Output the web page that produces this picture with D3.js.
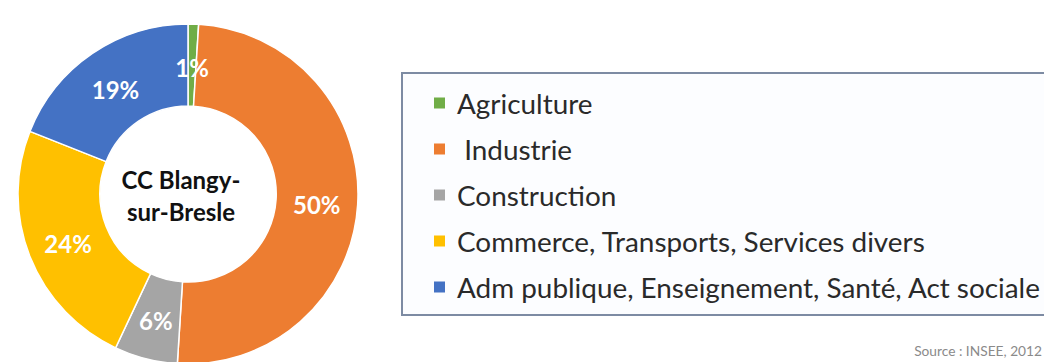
<!DOCTYPE html>
<html>
<head>
<meta charset="utf-8">
<script src="https://cdn.jsdelivr.net/npm/d3@7"></script>
<style>
  html, body { margin: 0; padding: 0; background: #ffffff; }
  svg { display: block; }
  text { font-family: Lato, "Open Sans", "DejaVu Sans", sans-serif; }
</style>
</head>
<body>
<svg id="chart" width="1044" height="362"></svg>
<script>
// ---- Data ----
const categories = ["Agriculture", " Industrie", "Construction", "Commerce, Transports, Services divers", "Adm publique, Enseignement, Santé, Act sociale"];
const values = [1, 50, 6, 24, 19];
const colors = ["#70AD47", "#ED7D31", "#A5A5A5", "#FFC000", "#4472C4"];
const centerLines = ["CC Blangy-", "sur-Bresle"];
const sourceText = "Source : INSEE, 2012";

// ---- Layout ----
const svg = d3.select("#chart");
const cx = 188, cy = 194, rOuter = 170, rInner = 88;

const data = categories.map((c, i) => ({ cat: c, value: values[i], color: colors[i] }));
const pie = d3.pie().value(d => d.value).sort(null);
const arcs = pie(data);
const arc = d3.arc().innerRadius(rInner).outerRadius(rOuter);
const labelArc = d3.arc().innerRadius((rInner + rOuter) / 2).outerRadius((rInner + rOuter) / 2);

const g = svg.append("g").attr("transform", `translate(${cx},${cy})`);
g.selectAll("path.slice").data(arcs).enter().append("path")
  .attr("class", "slice")
  .attr("d", arc)
  .attr("fill", d => d.data.color)
  .attr("stroke", "#ffffff")
  .attr("stroke-width", 1.5);

const pct = d3.format(".0%");
g.selectAll("text.lbl").data(arcs).enter().append("text")
  .attr("class", "lbl")
  .attr("transform", d => { const c = labelArc.centroid(d); return `translate(${c[0]},${c[1] + 2})`; })
  .attr("text-anchor", "middle")
  .attr("dominant-baseline", "central")
  .attr("fill", "#ffffff")
  .attr("font-weight", "bold")
  .attr("font-size", 24)
  .text(d => pct(d.data.value / 100));

// Center title
const ct = svg.append("text")
  .attr("x", 181)
  .attr("text-anchor", "middle")
  .attr("font-weight", "bold")
  .attr("font-size", 24)
  .attr("fill", "#111");
ct.selectAll("tspan").data(centerLines).enter().append("tspan")
  .attr("x", 181)
  .attr("y", (d, i) => 189 + i * 32)
  .text(d => d);

// ---- Legend ----
const legX = 402, legY = 73, legBottom = 315;
svg.append("rect")
  .attr("x", legX).attr("y", legY)
  .attr("width", 1044 - legX + 10).attr("height", legBottom - legY)
  .attr("fill", "#fcfdff")
  .attr("stroke", "#7d8ba3")
  .attr("stroke-width", 2);

const rowY = d3.scalePoint().domain(categories).range([103, 287]);
const leg = svg.append("g");
const items = leg.selectAll("g.item").data(data).enter().append("g").attr("class", "item")
  .attr("transform", d => `translate(0,${rowY(d.cat)})`);
items.append("rect")
  .attr("x", 434).attr("y", -5.5)
  .attr("width", 11).attr("height", 11)
  .attr("fill", d => d.color);
const legTexts = items.append("text")
  .attr("x", 457)
  .attr("dominant-baseline", "central")
  .attr("fill", "#2a2a2a")
  .attr("font-size", 24)
  .style("white-space", "pre")
  .text(d => d.cat);

// fit legend font so the longest label spans to ~1040px
const longest = legTexts.filter((d, i) => i === categories.length - 1).node();
const w = longest.getComputedTextLength();
const fs = 24 * 583 / w;
legTexts.attr("font-size", fs);

// Source
const src = svg.append("text")
  .attr("x", 1042).attr("y", 356)
  .attr("text-anchor", "end")
  .attr("fill", "#8a8a8a")
  .attr("font-size", 10)
  .text(sourceText);
const sw = src.node().getComputedTextLength();
src.attr("font-size", 10 * 128 / sw);
</script>
</body>
</html>
